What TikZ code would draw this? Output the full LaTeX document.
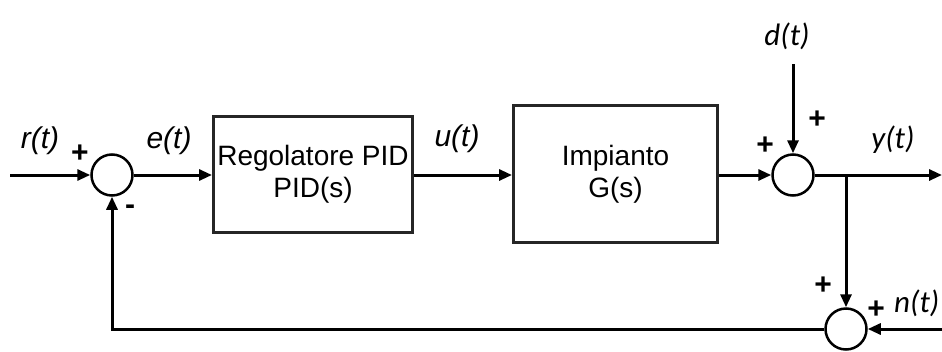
\documentclass[tikz,border=0pt]{standalone}
\usepackage{fontspec}
\setmainfont{Liberation Sans}
\newfontfamily\labfont{Carlito}
\usetikzlibrary{arrows.meta}
\begin{document}
\begin{tikzpicture}[x=1pt,y=-1pt,
  blk/.style={draw=black!85, line width=3pt, align=center, inner sep=0pt,
    font=\fontsize{28}{32}\selectfont},
  sumc/.style={draw, circle, line width=2.5pt, minimum size=41pt, inner sep=0pt},
  arr/.style={-{Triangle[length=13pt,width=11pt]}, line width=3pt},
  labA/.style={font=\fontsize{30}{30}\selectfont\itshape, inner sep=0pt},
  labB/.style={font=\labfont\fontsize{31}{31}\selectfont\itshape, inner sep=0pt},
  sgn/.style={font=\fontsize{30}{30}\selectfont\bfseries, inner sep=0pt}]
\useasboundingbox (0,0) rectangle (942,351);
\fill[white] (0,0) rectangle (942,351);

% nodes
\node[sumc] (c1) at (112,175) {};
\node[blk, minimum width=199pt, minimum height=116pt] (b1) at (313,174) {Regolatore PID\\PID(s)};
\node[blk, minimum width=204pt, minimum height=137pt] (b2) at (615.5,174) {Impianto\\G(s)};
\node[sumc] (c2) at (793,175) {};
\node[sumc] (c3) at (846,329) {};

\coordinate (in) at (10,175);
\coordinate (out) at (942,175);
\coordinate (br) at (846,175);
\coordinate (dsrc) at (793,64);
\coordinate (nsrc) at (942,329);

% connectors
\draw[arr] (in) -- (c1.west);
\draw[arr] (c1.east) -- (b1.west |- c1.east);
\draw[arr] (b1.east |- c1.east) -- (b2.west |- c1.east);
\draw[arr] (b2.east |- c2.west) -- (c2.west);
\draw[arr] (dsrc) -- (c2.north);
\draw[arr] (c2.east) -- (out);
\draw[arr] (br) -- (c3.north);
\draw[arr] (nsrc) -- (c3.east);
\draw[arr] (c3.west) -| (c1.south);

% labels
\node[labA] (lr) at (40,141) {r(t)};
\node[labA] (le) at (169,141) {e(t)};
\node[labA] (lu) at (457,139) {u(t)};
\node[labB] (ld) at (787,36) {d(t)};
\node[labB] (ly) at (893,140) {y(t)};
\node[labB, anchor=west] (ln) at (894,303) {n(t)};

% signs
\node[sgn] (s1) at (80,154) {+};
\node[sgn] (s2) at (130,210) {-};
\node[sgn] (s3) at (817,120) {+};
\node[sgn] (s4) at (765,146) {+};
\node[sgn] (s5) at (823,286) {+};
\node[sgn] (s6) at (876,310) {+};
\end{tikzpicture}
\end{document}
